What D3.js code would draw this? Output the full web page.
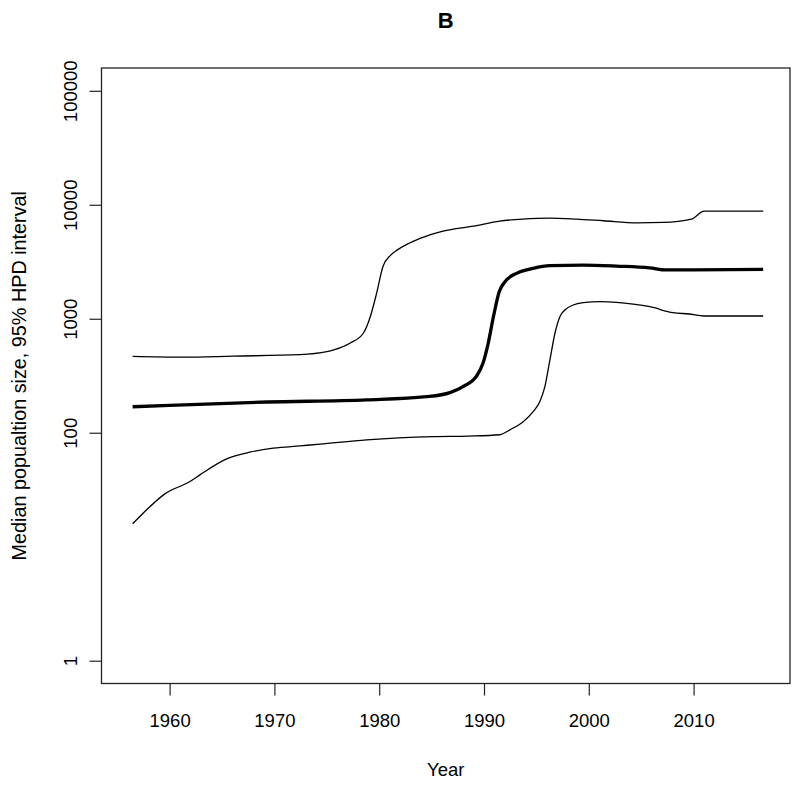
<!DOCTYPE html>
<html>
<head>
<meta charset="utf-8">
<script src="https://cdn.jsdelivr.net/npm/d3@7"></script>
<style>
  body { margin: 0; background: #fff; }
  text { font-family: "Liberation Sans", Arial, Helvetica, sans-serif; }
</style>
</head>
<body>
<script>
/* global d3 */

// Data
const upperYears = [1956.47, 1961.3, 1966.07, 1972.44, 1975.0, 1975.6, 1977.2, 1978.5, 1979.1, 1979.75,
  1980.35, 1981.1, 1981.7, 1983.9, 1986.1, 1989.0, 1991.5, 1993.7, 1996.3, 1998.8,
  2001.4, 2004.6, 2007.1, 2009.8, 2011.0, 2016.64];
const upperValues = [467, 460, 470, 484, 514, 530, 610, 750, 1010, 1670,
  2860, 3620, 4000, 5070, 5880, 6500, 7190, 7490, 7640, 7490,
  7240, 6950, 7000, 7490, 8800, 8800];

const medianYears = [1956.47, 1960, 1969.3, 1978.8, 1984.5, 1986.75, 1988.0, 1989.3, 1989.9, 1990.4,
  1990.9, 1991.45, 1992.0, 1993.1, 1994.7, 1996.3, 1999.5, 2002.65, 2005.8, 2007.4,
  2010.0, 2016.64];
const medianValues = [169, 174, 186, 194, 207, 225, 254, 315, 407, 609,
  1043, 1727, 2112, 2504, 2770, 2920, 2960, 2900, 2800, 2680,
  2690, 2715];

const lowerYears = [1956.47, 1957.64, 1959.55, 1961.94, 1962.89, 1965.44, 1967.66, 1969.89, 1972.44, 1974.34,
  1978.8, 1985.15, 1988.5, 1991.52, 1992.47, 1993.74, 1994.69, 1995.33, 1995.81, 1996.29,
  1996.77, 1997.24, 1997.72, 1998.51, 1999.47, 2001.06, 2002.65, 2004.24, 2005.83, 2008.05,
  2009.56, 2011.0, 2016.64];
const lowerValues = [15.9, 20.4, 29.1, 37.3, 42.7, 59, 67.5, 73.2, 76.7, 79.4,
  86.6, 92.5, 93.5, 96, 106, 125, 153, 188, 254, 435,
  746, 1043, 1194, 1320, 1384, 1412, 1394, 1346, 1276, 1130,
  1101, 1057, 1057];

const xTicks = [1960, 1970, 1980, 1990, 2000, 2010];
const yTicks = [1, 100, 1000, 10000, 100000];

// SVG setup
const width = 800;
const height = 786;
const margin = { top: 68, right: 10, bottom: 102.5, left: 101.5 };
const fontSize = 18.5;

const svg = d3.select('body')
.append('svg')
.attr('width', width)
.attr('height', height);

// Scales
const xScale = d3.scaleLinear()
.domain([1953.5, 2019.2])
.range([margin.left, width - margin.right]);

const yScale = d3.scaleLog()
.domain([Math.pow(10, -0.2), Math.pow(10, 5.2)])
.range([height - margin.bottom, margin.top]);

// Lines
const line = d3.line()
.x(d => xScale(d[0]))
.y(d => yScale(d[1]))
.curve(d3.curveMonotoneX);

const series = [
  { years: upperYears, values: upperValues, width: 1.3 },
  { years: lowerYears, values: lowerValues, width: 1.3 },
  { years: medianYears, values: medianValues, width: 3.3 }
];

svg.selectAll('path.series')
.data(series)
.enter()
.append('path')
.attr('class', 'series')
.attr('d', s => line(s.years.map((y, i) => [y, s.values[i]])))
.attr('fill', 'none')
.attr('stroke', '#000')
.attr('stroke-width', s => s.width)
.attr('stroke-linejoin', 'round');

// Axes
const xAxis = svg.append('g')
.attr('transform', `translate(0,${ height - margin.bottom })`)
.call(d3.axisBottom(xScale).tickValues(xTicks).tickFormat(d3.format('d')).tickSize(12).tickPadding(18.2));

const yAxis = svg.append('g')
.attr('transform', `translate(${ margin.left },0)`)
.call(d3.axisLeft(yScale).tickValues(yTicks).tickFormat(d3.format('d')).tickSize(12));

[xAxis, yAxis].forEach(g => {
  g.select('.domain').remove();
  g.selectAll('line').attr('stroke', '#222').attr('stroke-width', 1.2);
  g.selectAll('text')
  .attr('font-family', '"Liberation Sans", Arial, Helvetica, sans-serif')
  .attr('font-size', fontSize)
  .attr('fill', '#000');
});

yAxis.selectAll('text')
.attr('transform', 'rotate(-90)')
.attr('x', 0)
.attr('y', -24.5)
.attr('dy', 0)
.attr('text-anchor', 'middle');

// Plot box
svg.append('rect')
.attr('x', margin.left)
.attr('y', margin.top)
.attr('width', width - margin.left - margin.right)
.attr('height', height - margin.top - margin.bottom)
.attr('fill', 'none')
.attr('stroke', '#222')
.attr('stroke-width', 1.3);

// Titles
const cx = (margin.left + width - margin.right) / 2;

svg.append('text')
.attr('x', cx)
.attr('y', 28)
.attr('text-anchor', 'middle')
.attr('font-size', 22)
.attr('font-weight', 'bold')
.text('B');

svg.append('text')
.attr('x', cx)
.attr('y', 776)
.attr('text-anchor', 'middle')
.attr('font-size', fontSize)
.text('Year');

svg.append('text')
.attr('transform', `translate(26,${ (margin.top + height - margin.bottom) / 2 }) rotate(-90)`)
.attr('text-anchor', 'middle')
.attr('font-size', 19.8)
.text('Median popualtion size, 95% HPD interval');
</script>
</body>
</html>
